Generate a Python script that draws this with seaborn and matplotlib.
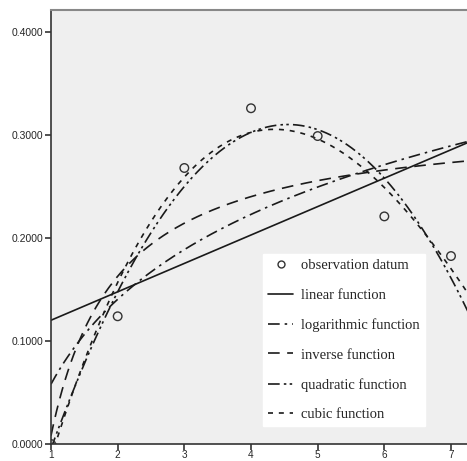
import numpy as np
import pandas as pd
import seaborn as sns
import matplotlib.pyplot as plt
from matplotlib.lines import Line2D

x_obs = [1, 2, 3, 4, 5, 6, 7]
y_obs = [0.0, 0.124, 0.268, 0.326, 0.299, 0.221, 0.1825]

models = ["linear function", "logarithmic function", "inverse function",
          "quadratic function", "cubic function"]
y_ticks = [0.0, 0.1, 0.2, 0.3, 0.4]
x_ticks = [1, 2, 3, 4, 5, 6, 7]

sns.set_style("white")
plt.rcParams["font.family"] = ["Liberation Sans", "DejaVu Sans"]

x = np.array(x_obs, dtype=float)
y = np.array(y_obs)
grid = np.linspace(1, 7.3, 300)

# curve estimation fits, same as the original model curves
fits = {}
b = np.polyfit(x, y, 1)
fits["linear function"] = np.polyval(b, grid)
b = np.polyfit(np.log(x), y, 1)
fits["logarithmic function"] = np.polyval(b, np.log(grid))
b = np.polyfit(1 / x, y, 1)
fits["inverse function"] = np.polyval(b, 1 / grid)
b = np.polyfit(x, y, 2)
fits["quadratic function"] = np.polyval(b, grid)
b = np.polyfit(x, y, 3)
fits["cubic function"] = np.polyval(b, grid)

curves = pd.concat([pd.DataFrame({"x": grid, "y": fits[m], "model": m}) for m in models],
                   ignore_index=True)

dashes = {
    "linear function": "",
    "logarithmic function": (7, 3, 1.5, 3),
    "inverse function": (7, 4.5),
    "quadratic function": (7, 2.5, 1.5, 2, 1.5, 2.5),
    "cubic function": (3, 3.5),
}

fig = plt.figure(figsize=(4.67, 4.61), dpi=100)
ax = fig.add_axes([0.1092, 0.0369, 0.8908 + 0.01, 0.9414])
ax.set_facecolor("#efefef")

sns.lineplot(data=curves, x="x", y="y", style="model", dashes=dashes,
             color="#1a1a1a", linewidth=1.2, estimator=None, sort=False,
             legend=False, ax=ax)
sns.scatterplot(x=x_obs, y=y_obs, ax=ax, marker="o", s=38,
                facecolor="none", edgecolor="#333333", linewidth=1.0, zorder=5)

ax.set_xlim(1, 7.31)
ax.set_ylim(0, 0.4214)
ax.set_xticks(x_ticks)
ax.set_yticks(y_ticks)
ax.set_yticklabels(["%.4f" % v for v in y_ticks])
ax.set_xlabel("")
ax.set_ylabel("")
ax.tick_params(direction="out", length=4, width=1.2, color="#333333",
               labelsize=7.5, pad=1.5, left=True, bottom=True)
ax.tick_params(axis="x", pad=0.3, labelsize=7.2)
for side in ["left", "bottom"]:
    ax.spines[side].set_color("#333333")
    ax.spines[side].set_linewidth(1.2)
ax.spines["top"].set_color("#888888")
ax.spines["top"].set_linewidth(1.5)
ax.spines["right"].set_visible(False)

handles = [Line2D([], [], linestyle="none", marker="o", markersize=5,
                  markerfacecolor="none", markeredgecolor="#333333")]
for m in models:
    h = Line2D([], [], color="#1a1a1a", linewidth=1.2)
    if dashes[m]:
        h.set_dashes(dashes[m])
    handles.append(h)
labels = ["observation datum"] + models

leg = ax.legend(handles, labels, loc="upper left",
                bbox_to_anchor=(263 / 467, 1 - 254 / 461),
                bbox_transform=fig.transFigure, frameon=True, fancybox=False,
                facecolor="white", edgecolor="white", framealpha=1,
                prop={"family": "Liberation Serif", "size": 10.5},
                handlelength=1.7, handletextpad=0.55, labelspacing=1.12,
                borderpad=0.35, borderaxespad=0)

fig.savefig("out.png", dpi=100)
